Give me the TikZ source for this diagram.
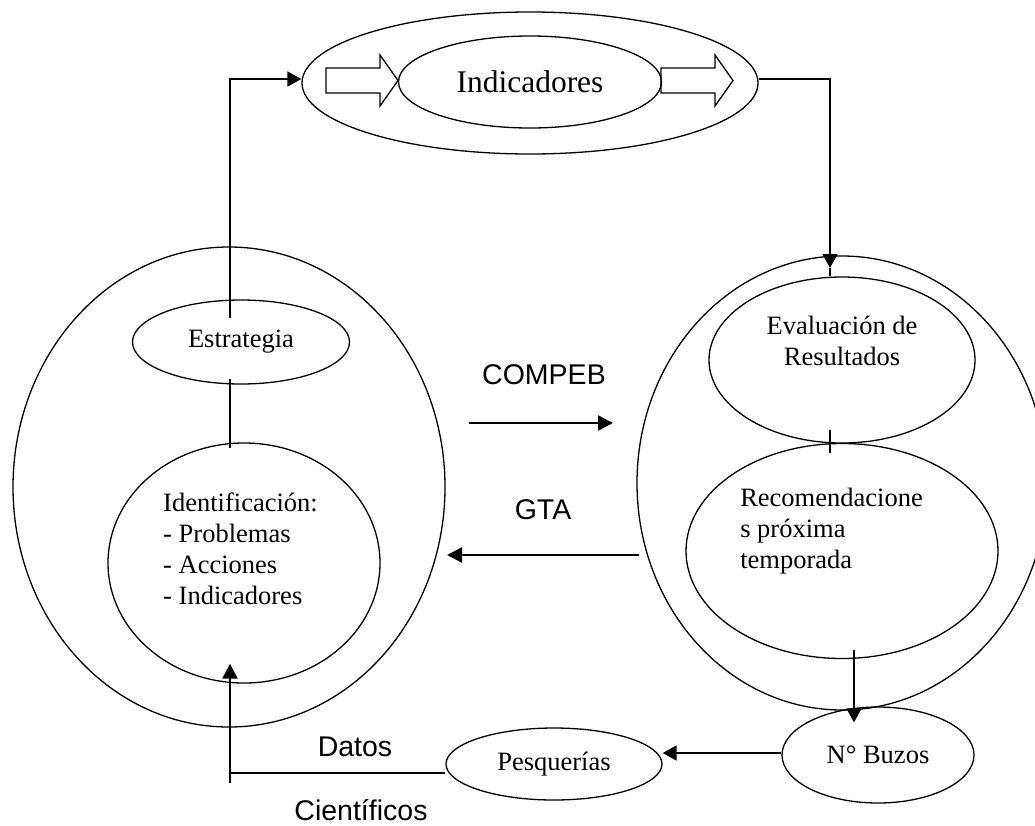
\documentclass[tikz,border=0pt]{standalone}
\usepackage{fontspec}
\setmainfont{Liberation Serif}
\setsansfont{Liberation Sans}
\usepackage{tikz}
\usetikzlibrary{shapes,positioning,arrows,arrows.meta,calc}

\tikzset{
  oval/.style={ellipse, draw, line width=1.3pt, inner sep=0pt},
  txt/.style={font=\fontsize{26.5}{31}\selectfont},
  bigtxt/.style={font=\fontsize{31.5}{36}\selectfont},
  lab/.style={font=\sffamily\fontsize{28.5}{34}\selectfont},
  conn/.style={line width=1.6pt},
  tip/.style={-{Triangle[length=14pt,width=15pt]}},
  flow/.style={line width=2.4pt, -{Triangle[length=15pt,width=15pt]}},
}

\begin{document}
\begin{tikzpicture}[x=1pt,y=-1pt]
        \clip (0,0) rectangle (1035,825);
        % indicadores
        \node[oval, minimum width=456pt, minimum height=142pt] (ciclo) at (530,83) {};
        \node[oval, bigtxt, minimum width=263pt, minimum height=92pt] (indic) at (530,82) {Indicadores};
        \foreach \bx in {326,661}
            \draw[line width=1.3pt] (\bx,68) -- ++(54,0) -- ++(0,-13) -- ++(18,25.5)
                -- ++(-18,25.5) -- ++(0,-13) -- ++(-54,0) -- cycle;
        % left side
        \node[oval, minimum width=432pt, minimum height=480pt] (izq) at (229,487) {};
        \node[oval, txt, minimum width=217pt, minimum height=84pt] (estr) at (241,342) {Estrategia};
        \node[oval, minimum width=272pt, minimum height=240pt] (iden) at (244,563) {};
        \node[txt, align=left] (identxt) at (240.5,549) {Identificación:\\- Problemas\\- Acciones\\- Indicadores};
        % right side
        \node[oval, minimum width=410pt, minimum height=454pt] (der) at (842,483) {};
        \node[oval, minimum width=266pt, minimum height=166pt] (eval) at (842,360) {};
        \node[txt, align=center] (evaltxt) at (842,341) {Evaluación de\\Resultados};
        \node[oval, minimum width=312pt, minimum height=215pt] (recom) at (842,551) {};
        \node[txt, align=left] (recomtxt) at (831.5,531) {Recomendacione\\s próxima\\temporada};
        % bottom
        \node[oval, txt, minimum width=192pt, minimum height=96pt] (buzos) at (878,755) {N° Buzos};
        \node[oval, txt, minimum width=216pt, minimum height=72pt] (pesq) at (554,764) {Pesquerías};
        % labels
        \node[lab] (compeb) at (544,375) {COMPEB};
        \node[lab] (gta) at (543,510) {GTA};
        \node[lab] (datos) at (355,747) {Datos};
        \node[lab] (cient) at (361,810) {Científicos};
        \coordinate (c1) at (469,423);
        \coordinate (c2) at (613,423);
        \coordinate (g1) at (639,555);
        \coordinate (g2) at (447,555);
        \coordinate (evalin) at (830,268);
        \coordinate (dknee) at (230,773);
        \coordinate (dfoot) at (230,783);
        % connectors
        \draw[conn, tip] ([xshift=-11pt,yshift=-19pt]estr.north) |- ([yshift=4pt]ciclo.west);
        \draw[conn, tip] ([yshift=4pt]ciclo.east) -| (evalin);
        \draw[conn] (evalin) -- ([xshift=-12pt]eval.north);
        \draw[conn] ([xshift=-11pt,yshift=6pt]estr.south) -- ([xshift=-14pt,yshift=-6pt]iden.north);
        \draw[conn] ([xshift=-12pt,yshift=14pt]eval.south) -- ([xshift=-12pt,yshift=-10pt]recom.north);
        \draw[conn, tip] ([xshift=12pt,yshift=9pt]recom.south) -- ([xshift=-24pt,yshift=-16pt]buzos.north);
        \draw[conn, tip] ([yshift=2pt]buzos.west) -- ([yshift=2pt]buzos.west -| pesq.east);
        \draw[conn] ([yshift=-9pt]pesq.west) -- (dknee);
        \draw[flow] (dfoot) -- ([xshift=-14pt,yshift=20pt]iden.south);
        \draw[flow] (c1) -- (c2);
        \draw[flow] (g1) -- (g2);
    \end{tikzpicture}
\end{document}
